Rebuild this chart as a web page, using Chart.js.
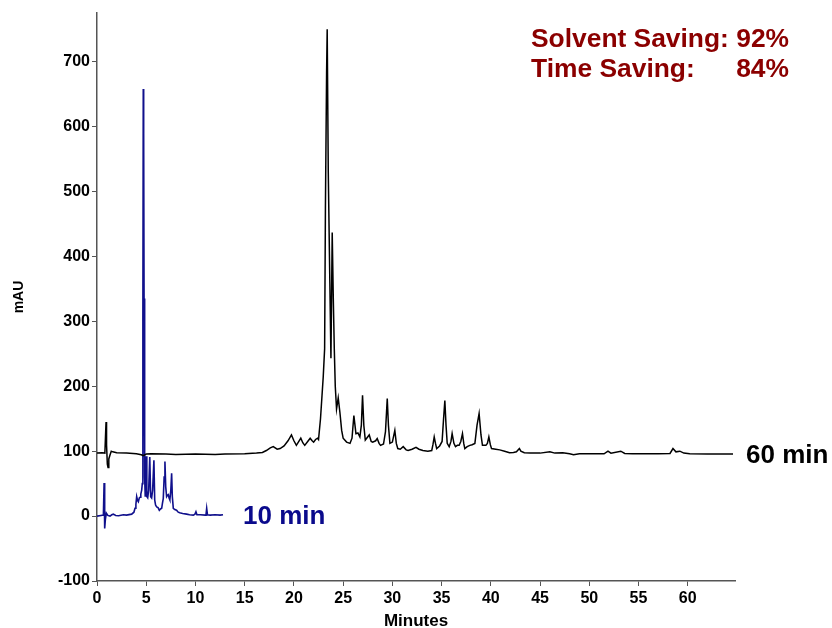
<!DOCTYPE html>
<html>
<head>
<meta charset="utf-8">
<script src="https://cdn.jsdelivr.net/npm/chart.js@4/dist/chart.umd.min.js"></script>
<style>
  html, body { margin: 0; padding: 0; background: #fff; }
  #wrap { width: 832px; height: 628px; }
</style>
</head>
<body>
<div id="wrap"><canvas id="c" width="832" height="628"></canvas></div>
<script>
// ---- Data ----
// 60-minute run (black trace): retention time (min) and absorbance (mAU)
const time60 = [0.0,0.5,0.8,0.88,0.92,0.97,1.05,1.12,1.2,1.32,1.45,1.6,2.0,3.0,4.0,4.5,4.7,5.0,5.5,7.0,8.0,10.0,12.0,13.0,15.0,16.2,16.8,17.2,17.6,17.9,18.3,18.6,19.0,19.4,19.75,20.0,20.25,20.5,20.7,20.9,21.1,21.4,21.65,21.85,22.0,22.2,22.4,22.5,22.7,22.98,23.12,23.2,23.32,23.38,23.49,23.65,23.76,23.89,24.0,24.1,24.2,24.33,24.5,24.67,24.85,25.0,25.35,25.7,25.9,26.09,26.3,26.5,26.7,26.85,26.97,27.1,27.25,27.45,27.65,27.85,28.0,28.3,28.46,28.65,28.8,29.1,29.3,29.48,29.6,29.75,30.0,30.25,30.4,30.55,30.8,31.1,31.4,31.6,32.0,32.4,32.7,33.1,33.6,34.0,34.12,34.25,34.38,34.5,34.8,35.05,35.2,35.33,35.45,35.57,35.77,35.95,36.07,36.25,36.41,36.6,36.78,36.95,37.12,37.25,37.36,37.6,37.87,38.1,38.38,38.6,38.81,39.0,39.15,39.5,39.65,39.8,39.95,40.07,40.5,40.9,41.4,41.9,42.3,42.6,42.9,43.05,43.4,44.0,45.0,46.0,46.5,47.3,48.0,48.4,49.0,50.0,51.5,51.9,52.2,53.2,53.6,54.4,56.0,57.0,58.2,58.5,58.8,59.2,59.6,60.2,62.0,64.6];
const mAU60 = [97,97.5,97,130,145,110,80,75,88,94,100,99,97.5,97,96,94.5,93,95.5,96,95.5,95,95.5,95,95.5,96,97,98,101,105,107,103,104,108,116,125,116,109,115,120,113,109,115,120,116,114,118,120,118,150,215,258,474,684,750,530,360,243,437,335,258,200,165,182,160,132,120,114,112,120,155,127,128,122,140,186,140,117,121,125,115,114,116,119.5,112,109,111,130,181,140,112,114,132,112,104,103,107,102,101,103,106,103,101,100,101,110,122,112,104,108,115,150,178,140,112,107,115,127,112,107,109,109,115,127,112,104,107,109,110,112,140,158,125,109,109,112,122,110,104,103,102,100,97.5,98,99,104,100,97.5,97,97,99,97,97.5,96,94.5,96,96,96,100,97,100,96.5,96,96,96,96.5,104,99,100,97,96,95.5,95.5];

// 10-minute run (blue trace)
const time10 = [0.0,0.4,0.65,0.72,0.78,0.85,0.95,1.1,1.32,1.5,1.66,1.9,2.2,2.67,3.0,3.52,3.75,3.86,3.95,4.03,4.12,4.2,4.3,4.37,4.45,4.54,4.6,4.66,4.7,4.74,4.78,4.84,4.9,4.99,5.06,5.15,5.25,5.36,5.45,5.55,5.65,5.78,5.86,5.95,6.06,6.2,6.33,6.45,6.57,6.65,6.73,6.82,6.9,6.98,7.07,7.15,7.24,7.32,7.4,7.5,7.58,7.65,7.75,7.9,8.08,8.25,8.4,8.7,9.1,9.4,9.78,9.95,10.05,10.15,10.5,11.0,11.07,11.14,11.22,11.5,12.0,12.5,12.8];
const mAU10 = [0,1,1.5,51,-19,-5,4.6,1,0,2,3,1,0.5,2,1.5,3,6,12,18,30,24,22,28,29,34,40,50,300,658,590,335,60,30,92,30,28,40,91,30,28,40,86,25,17,14,13,9,11,12,20,27,60,84,45,30,32,33,28,25,40,66,30,12,10,9,6,5,4,3,2,1.5,3,6.6,2,2,1.5,2,12,2,1.5,2,1.5,2];

// Axis ranges and ticks
const xRange = [0, 64.8];
const yRange = [-100, 775];
const xStep = 5;
const yStep = 100;

// Labels
const xTitle = "Minutes";
const yTitle = "mAU";
const label60 = "60 min";
const label10 = "10 min";
const savingLine1 = "Solvent Saving: 92%";
const savingLine2 = ["Time Saving:", "84%"];

// ---- Chart ----
const toPts = (xs, ys) => xs.map((x, i) => ({x: x, y: ys[i]}));

const annot = {
  id: 'annot',
  afterDraw(chart) {
    const ctx = chart.ctx;
    const xs = chart.scales.x, ys = chart.scales.y;
    ctx.save();
    ctx.textBaseline = 'alphabetic';
    // trace labels
    ctx.font = 'bold 26px "Liberation Sans", Arial, sans-serif';
    ctx.fillStyle = '#000000';
    ctx.textAlign = 'left';
    ctx.fillText(label60, xs.right + 11, ys.getPixelForValue(mAU60[mAU60.length - 1]) + 9);
    ctx.fillStyle = '#0a0a8c';
    ctx.fillText(label10, xs.getPixelForValue(time10[time10.length - 1]) + 20, ys.getPixelForValue(0) + 8);
    // savings
    ctx.fillStyle = '#8b0000';
    const leftX = 531, rightX = 789;
    ctx.font = 'bold 26.4px "Liberation Sans", Arial, sans-serif';
    ctx.textAlign = 'left';
    ctx.fillText(savingLine1, leftX, 47, rightX - leftX);
    ctx.fillText(savingLine2[0], leftX, 77);
    ctx.textAlign = 'right';
    ctx.fillText(savingLine2[1], rightX, 77);
    ctx.restore();
  }
};

new Chart(document.getElementById('c'), {
  type: 'line',
  data: {
    datasets: [
      { data: toPts(time60, mAU60), borderColor: '#000000', borderWidth: 1.5, pointRadius: 0, tension: 0, fill: false },
      { data: toPts(time10, mAU10), borderColor: '#10108c', borderWidth: 1.6, pointRadius: 0, tension: 0, fill: false }
    ]
  },
  options: {
    responsive: false,
    animation: false,
    devicePixelRatio: 1,
    layout: { padding: { top: 13, right: 97, left: 0, bottom: 0 } },
    plugins: { legend: { display: false }, tooltip: { enabled: false } },
    scales: {
      x: {
        type: 'linear',
        min: xRange[0], max: xRange[1],
        afterFit(s) { s.height = 47; },
        grid: { display: true, drawOnChartArea: false, drawTicks: true, tickLength: 5, color: '#555555' },
        border: { display: true, color: '#555555', width: 1.5 },
        ticks: { stepSize: xStep, includeBounds: false, autoSkip: false, maxRotation: 0, padding: 3,
                 color: '#000', font: { family: '"Liberation Sans Narrow", "Liberation Sans", Arial', weight: 'bold', size: 16 } },
        title: { display: true, text: xTitle, color: '#000', padding: { top: 0, bottom: -4 },
                 font: { family: '"Liberation Sans Narrow", "Liberation Sans", Arial', weight: 'bold', size: 17 } }
      },
      y: {
        min: yRange[0], max: yRange[1],
        afterFit(s) { s.width = 97; },
        grid: { display: true, drawOnChartArea: false, drawTicks: true, tickLength: 5, color: '#555555' },
        border: { display: true, color: '#555555', width: 1.5 },
        ticks: { stepSize: yStep, includeBounds: false, padding: 2, color: '#000',
                 font: { family: '"Liberation Sans", Arial', weight: 'bold', size: 16 } },
        title: { display: true, text: yTitle, color: '#000', padding: { top: 11, bottom: 0 },
                 font: { family: '"Liberation Sans", Arial', weight: 'bold', size: 14 } }
      }
    }
  },
  plugins: [annot]
});
</script>
</body>
</html>
